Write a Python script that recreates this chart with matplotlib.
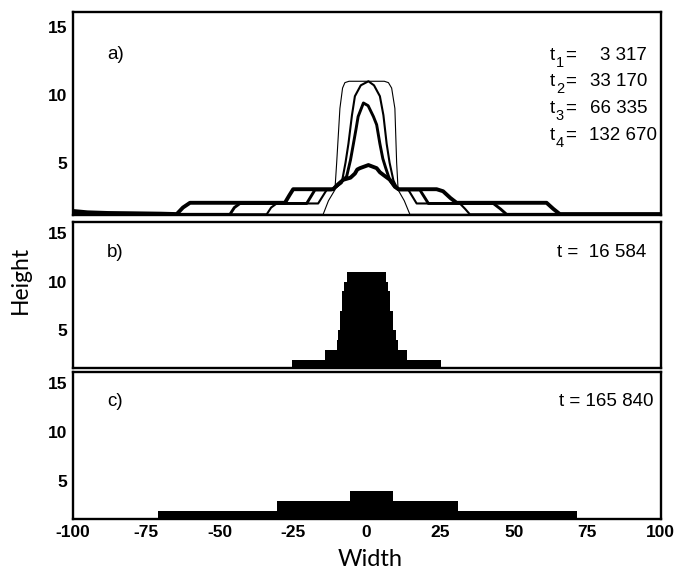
import numpy as np
import matplotlib.pyplot as plt

# profile snapshots for panel a (width, height)
t1_x = [-100, -14.8, -13.0, -10.8, -10.2, -9.1, -8.2, -7.4, -6.0, 6.0, 7.4, 8.5, 9.6, 10.2, 10.7, 12.8, 14.7, 100]
t1_y = [1.2, 1.2, 2.2, 3.0, 5.0, 9.0, 10.5, 10.9, 11.0, 11.0, 10.9, 10.5, 9.0, 5.0, 3.0, 2.2, 1.2, 1.2]

t2_x = [-100, -34.0, -32.5, -30.6, -16.5, -13.6, -11.0, -8.5, -7.2, -6.2, -5.0, -4.0, -2.0, 0.6,
        2.5, 4.5, 5.7, 6.8, 7.8, 9.1, 10.2, 11.5, 14.2, 17.0, 31.7, 33.5, 35.1, 100]
t2_y = [1.2, 1.2, 1.7, 2.0, 2.0, 3.0, 3.1, 3.5, 5.0, 6.4, 8.5, 9.9, 10.7, 11.0,
        10.7, 9.9, 8.5, 6.4, 5.0, 3.7, 3.2, 3.0, 3.0, 2.0, 2.0, 1.6, 1.2, 1.2]

t3_x = [-100, -46.5, -45.0, -43.1, -20.4, -17.6, -12.0, -10.0, -6.8, -5.5, -4.5, -3.6, -2.9, -1.1,
        0.5, 2.3, 3.4, 4.5, 5.5, 6.5, 7.9, 9.5, 11.0, 18.1, 21.0, 43.1, 45.5, 47.6, 100]
t3_y = [1.2, 1.2, 1.7, 2.0, 2.0, 3.0, 3.0, 3.3, 4.0, 5.2, 6.4, 7.5, 8.4, 9.4,
        9.2, 8.4, 7.8, 6.4, 5.3, 4.6, 3.7, 3.2, 3.0, 3.0, 2.0, 2.0, 1.6, 1.2, 1.2]

t4_x = [-100, -95, -88, -80, -70, -64.6, -62.5, -60.1, -27.8, -26.3, -25.0, -11.4, -9.8, -7.9,
        -5.5, -4.0, -3.2, -2.3, 0.6, 3.4, 4.5, 5.7, 7.9, 9.5, 10.8, 23.8, 26.0, 28.5, 30.6,
        61.2, 63.5, 65.7, 100]
t4_y = [1.45, 1.35, 1.3, 1.28, 1.25, 1.22, 1.7, 2.05, 2.05, 2.6, 3.05, 3.05, 3.4, 3.75,
        3.9, 4.2, 4.5, 4.6, 4.83, 4.6, 4.3, 4.1, 3.75, 3.3, 3.05, 3.05, 2.9, 2.4, 2.05,
        2.05, 1.6, 1.22, 1.22]

times_a = ["3 317", "33 170", "66 335", "132 670"]

# stepped profiles for panels b and c
b_edges = [-100, -25.3, -14.2, -10.2, -9.6, -9.1, -8.5, -7.7, -6.6, 6.5, 7.3, 7.9, 9.1, 10.0, 10.8, 13.6, 25.2, 100]
b_levels = [1, 2, 3, 4, 5, 7, 9, 10, 11, 10, 9, 7, 5, 4, 3, 2, 1]
c_edges = [-100, -71.0, -30.4, -5.7, 9.1, 31.2, 71.6, 100]
c_levels = [1, 2, 3, 4, 3, 2, 1]

x_ticks = [-100, -75, -50, -25, 0, 25, 50, 75, 100]
y_ticks = [5, 10, 15]

plt.rcParams["font.family"] = ["Liberation Sans", "DejaVu Sans"]
plt.rcParams["axes.unicode_minus"] = False

fig = plt.figure(figsize=(6.75, 5.72), dpi=100)
left, width = 0.1077, 0.871
ax_a = fig.add_axes([left, 0.6241, width, 0.3549])
ax_b = fig.add_axes([left, 0.3566, width, 0.2552])
ax_c = fig.add_axes([left, 0.0927, width, 0.2570])

for xs, ys, lw in [(t1_x, t1_y, 0.8), (t2_x, t2_y, 1.5), (t3_x, t3_y, 2.1), (t4_x, t4_y, 2.8)]:
    ax_a.plot(xs, ys, color="black", lw=lw, solid_joinstyle="round", solid_capstyle="butt")

ax_b.stairs(b_levels, b_edges, fill=True, color="black", baseline=0)
ax_c.stairs(c_levels, c_edges, fill=True, color="black", baseline=0)

for ax in (ax_a, ax_b, ax_c):
    ax.set_xlim(-100, 100)
    ax.set_ylim(1.15, 16.1)
    ax.set_yticks(y_ticks)
    ax.set_xticks(x_ticks)
    ax.tick_params(length=0, pad=4, labelsize=12.5)
    for lab in ax.get_xticklabels() + ax.get_yticklabels():
        lab.set_fontweight("bold")
    for sp in ax.spines.values():
        sp.set_linewidth(1.7)
ax_a.tick_params(labelbottom=False)
ax_b.tick_params(labelbottom=False)

fs = 13.5
ax_a.text(0.058, 0.79, "a)", transform=ax_a.transAxes, fontsize=fs, va="center")
ax_b.text(0.058, 0.79, "b)", transform=ax_b.transAxes, fontsize=fs, va="center")
ax_c.text(0.058, 0.80, "c)", transform=ax_c.transAxes, fontsize=fs, va="center")

# t_i labels: "t", a lowered subscript digit, then "="
for i, val in enumerate(times_a):
    y = 0.788 - i * 0.1315
    ax_a.annotate("t", (0.812, y), xycoords="axes fraction", fontsize=fs, va="center")
    ax_a.annotate(str(i + 1), (0.812, y), xycoords="axes fraction", xytext=(4.2, -5.5),
                  textcoords="offset points", fontsize=10.5, va="center")
    ax_a.annotate("=", (0.812, y), xycoords="axes fraction", xytext=(10.5, 0),
                  textcoords="offset points", fontsize=fs, va="center")
    xr = 0.993 if i == 3 else 0.977
    ax_a.text(xr, y, val, transform=ax_a.transAxes, fontsize=fs, va="center", ha="right")

ax_b.text(0.975, 0.79, "t =  16 584", transform=ax_b.transAxes, fontsize=fs, va="center", ha="right")
ax_c.text(0.988, 0.80, "t = 165 840", transform=ax_c.transAxes, fontsize=fs, va="center", ha="right")

fig.text(0.548, 0.022, "Width", fontsize=17, family=["Lato", "DejaVu Sans"], ha="center", va="center")
fig.text(0.03, 0.51, "Height", fontsize=16.5, family=["Lato", "DejaVu Sans"], rotation=90,
         ha="center", va="center")

fig.savefig("out.png", dpi=100)
